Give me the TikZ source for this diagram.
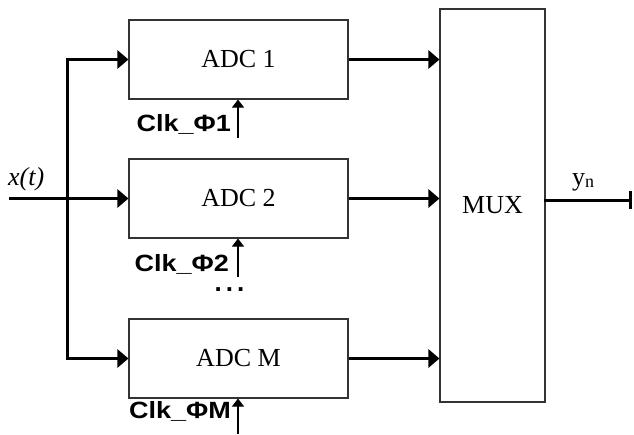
\documentclass[tikz,border=0pt]{standalone}
\usepackage{fontspec}
\setmainfont{Liberation Serif}
\newfontfamily\arialfont{Liberation Sans}
\usetikzlibrary{arrows.meta}
\tikzset{
  blk/.style={draw=black!80, line width=1.1pt, fill=white, inner sep=0pt,
    font=\fontsize{26}{28}\selectfont},
  conn/.style={line width=3pt, -{Triangle[length=11pt,width=18pt]}},
  clkarrow/.style={line width=1.1pt, -{Triangle[length=8pt,width=12pt]}},
  clklabel/.style={anchor=base east, inner sep=0pt, font=\arialfont\bfseries\fontsize{23.5}{25}\selectfont},
}
\begin{document}
\begin{tikzpicture}[x=1pt,y=-1pt]
\useasboundingbox (0,0) rectangle (634,434);
% blocks
\node[blk, minimum width=219pt, minimum height=79pt] (adc1) at (238.5,59.5) {ADC 1};
\node[blk, minimum width=219pt, minimum height=79pt] (adc2) at (238.5,198.5) {ADC 2};
\node[blk, minimum width=219pt, minimum height=79pt] (adcm) at (238.5,358.5) {ADC M};
\node[blk, minimum width=105pt, minimum height=393pt] (mux) at (492.5,205.5) {MUX};
% input
\coordinate (in) at (9,198.5);
\coordinate (bus) at (67,198.5);
\draw[conn] (in) -- (adc2.west);
\draw[line width=3pt, {Triangle[length=11pt,width=18pt]}-{Triangle[length=11pt,width=18pt]}] (adc1.west) -| (bus) |- (adcm.west);
\node[anchor=base west, inner sep=0pt, font=\fontsize{26}{28}\selectfont\itshape] (xt) at (8,185) {x(t)};
% to mux
\draw[conn] (adc1.east) -- (adc1.east -| mux.west);
\draw[conn] (adc2.east) -- (adc2.east -| mux.west);
\draw[conn] (adcm.east) -- (adcm.east -| mux.west);
% output
\coordinate (out) at (632,200);
\draw[line width=3pt, -{Bar[width=18pt]}] (mux.west |- out) ++(105,0) coordinate (muxout) -- (out);
\node[anchor=base west, inner sep=0pt, font=\fontsize{26}{28}\selectfont] (yn) at (572,185) {y\raisebox{-2pt}{\fontsize{18}{20}\selectfont n}};
% clocks
\coordinate (c1) at (238,138);
\coordinate (c2) at (238,277);
\coordinate (cm) at (238,434);
\draw[clkarrow] (c1) -- (c1 |- adc1.south);
\draw[clkarrow] (c2) -- (c2 |- adc2.south);
\draw[clkarrow] (cm) -- (cm |- adcm.south);
\node[clklabel] (l1) at (231,131) {\scalebox{1.15}[1]{Clk\_Φ1}};
\node[clklabel] (l2) at (229,271) {\scalebox{1.15}[1]{Clk\_Φ2}};
\node[clklabel] (lm) at (231,418) {\scalebox{1.15}[1]{Clk\_ΦM}};
\node[anchor=base, inner sep=0pt, font=\arialfont\fontsize{26}{28}\selectfont\bfseries] (dots) at (229.5,291) {.\hspace{4pt}.\hspace{4pt}.};
\end{tikzpicture}
\end{document}
